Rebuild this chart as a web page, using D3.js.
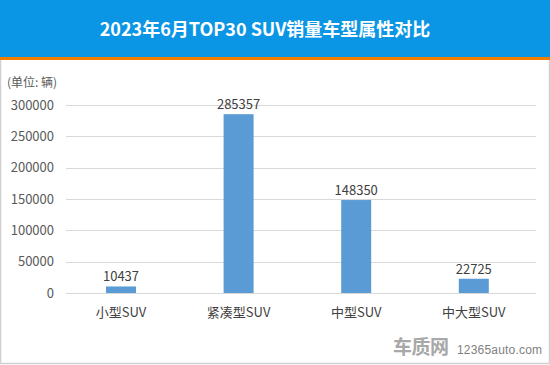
<!DOCTYPE html>
<html><head><meta charset="utf-8">
<script src="https://cdn.jsdelivr.net/npm/d3@7"></script>
<style>body{margin:0;background:#fff}svg{display:block}</style>
</head><body>
<script>
const categories = ["小型SUV","紧凑型SUV","中型SUV","中大型SUV"];
const values = [10437,285357,148350,22725];
const yTicks = [0,50000,100000,150000,200000,250000,300000];
const title = "2023年6月TOP30 SUV销量车型属性对比";
const unitLabel = "(单位: 辆)";

const W=550,H=365;
const svg=d3.select("body").append("svg").attr("width",W).attr("height",H);
const font="'Microsoft YaHei','Noto Sans CJK SC','DejaVu Sans',sans-serif";

// header
svg.append("rect").attr("x",0).attr("y",0).attr("width",W).attr("height",58).attr("fill","#0b96e5");
svg.append("rect").attr("x",0).attr("y",57).attr("width",W).attr("height",3).attr("fill","#f07d00");
svg.append("text").attr("x",265).attr("y",36).attr("text-anchor","middle")
  .attr("fill","#fff").attr("font-weight","bold").attr("font-size",18).attr("font-family",font).text(title);
// border
svg.append("path").attr("d",`M0.5,60 V${H-1.5} H${W-0.5} V60`).attr("fill","none").attr("stroke","#d0d0d0").attr("stroke-width",1.5);

const x=d3.scaleBand().domain(categories).range([62.2,532.6]).paddingInner(0.745).paddingOuter(0.3725);
const y=d3.scaleLinear().domain([0,300000]).range([293,105]);

const g=svg.append("g");
g.selectAll("line.grid").data(yTicks).join("line").attr("class","grid")
  .attr("x1",66).attr("x2",536).attr("y1",d=>Math.round(y(d))+0.5).attr("y2",d=>Math.round(y(d))+0.5)
  .attr("stroke","#d9d9d9").attr("stroke-width",1);

const ya=d3.axisLeft(y).tickValues(yTicks).tickFormat(d=>String(d)).tickSize(0).tickPadding(0);
const yg=svg.append("g").attr("transform","translate(54,0)").call(ya);
yg.select(".domain").remove();
yg.selectAll("text").attr("font-size",13).attr("fill","#595959").attr("font-family",font);

g.selectAll("rect.bar").data(values).join("rect").attr("class","bar")
  .attr("x",(d,i)=>x(categories[i])).attr("width",x.bandwidth())
  .attr("y",d=>y(d)).attr("height",d=>y(0)-y(d)).attr("fill","#5b9bd5");

g.selectAll("text.val").data(values).join("text").attr("class","val")
  .attr("x",(d,i)=>x(categories[i])+x.bandwidth()/2).attr("y",d=>y(d)-5)
  .attr("text-anchor","middle").attr("font-size",13).attr("fill","#404040").attr("font-family",font).text(d=>d);

const xa=d3.axisBottom(x).tickSize(0).tickPadding(0);
const xg=svg.append("g").attr("transform","translate(0,305)").call(xa);
xg.select(".domain").remove();
xg.selectAll("text").attr("font-size",13).attr("fill","#404040").attr("font-family",font).attr("dy","0.9em");

svg.append("text").attr("x",7).attr("y",87).attr("font-size",12).attr("fill","#595959").attr("font-family",font).text(unitLabel);

// watermark
svg.append("text").attr("x",393).attr("y",354).attr("font-size",19).attr("font-weight","bold")
  .attr("fill","#a8a8a8").attr("font-family",font).attr("letter-spacing",-0.5).text("车质网");
svg.append("text").attr("x",457).attr("y",354).attr("font-size",12).attr("fill","#808080").attr("font-family","'Liberation Sans',Arial,sans-serif").attr("textLength",85).text("12365auto.com");
</script>
</body></html>
